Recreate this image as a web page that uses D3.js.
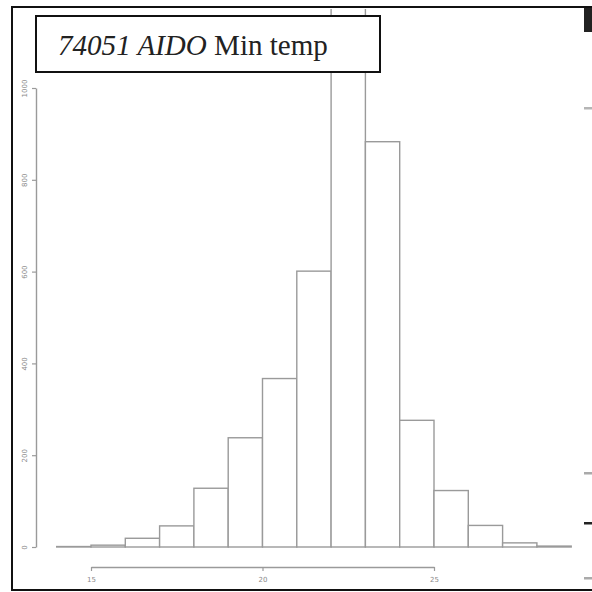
<!DOCTYPE html>
<html>
<head>
<meta charset="utf-8">
<script src="https://cdn.jsdelivr.net/npm/d3@7"></script>
<style>
  html, body { margin: 0; padding: 0; background: #fff; }
  svg { display: block; }
</style>
</head>
<body>
<svg id="chart" width="592" height="592"></svg>
<script>
// Daily minimum temperature histogram, station 74051 AIDO (1 °C bins)
const binStarts = [14, 15, 16, 17, 18, 19, 20, 21, 22, 23, 24, 25, 26, 27, 28];
const counts    = [1, 4, 19, 46, 128, 238, 367, 601, 1180, 883, 276, 123, 47, 9, 2];
const xTicks    = [15, 20, 25];
const yTicks    = [0, 200, 400, 600, 800, 1000];
const titleStation = "74051 AIDO";
const titleVariable = " Min temp";

const svg = d3.select("#chart");

const x = d3.scaleLinear().domain([15, 25]).range([91, 434]);
const y = d3.scaleLinear().domain([0, 1000]).range([547, 88]);

const grey = "#9a9a9a";
const textGrey = "#8a8a8a";

// clip area inside the outer frame
svg.append("clipPath").attr("id", "frameClip")
  .append("rect").attr("x", 13).attr("y", 9).attr("width", 570).attr("height", 580);

// histogram bars
svg.append("g").attr("clip-path", "url(#frameClip)")
  .selectAll("rect").data(binStarts).join("rect")
  .attr("x", (d) => x(d))
  .attr("width", (d) => x(d + 1) - x(d))
  .attr("y", (d, i) => y(counts[i]))
  .attr("height", (d, i) => y(0) - y(counts[i]))
  .attr("fill", "#fff")
  .attr("stroke", grey)
  .attr("stroke-width", 1.4);

// x axis
const xAxis = svg.append("g")
  .attr("transform", `translate(0,${567})`)
  .call(d3.axisBottom(x).tickValues(xTicks).tickSize(4).tickSizeOuter(0).tickPadding(6));
xAxis.select(".domain").attr("stroke", grey).attr("stroke-width", 1.4);
xAxis.selectAll(".tick line").attr("stroke", grey).attr("stroke-width", 1.2);
xAxis.selectAll(".tick text")
  .attr("fill", textGrey).attr("font-size", 7).attr("font-family", "DejaVu Sans, sans-serif");

// y axis with rotated labels
const yAxis = svg.append("g")
  .attr("transform", `translate(${36},0)`)
  .call(d3.axisLeft(y).tickValues(yTicks).tickSize(4).tickSizeOuter(0).tickFormat(d3.format("d")));
yAxis.select(".domain").attr("stroke", grey).attr("stroke-width", 1.4);
yAxis.selectAll(".tick line").attr("stroke", grey).attr("stroke-width", 1.2);
yAxis.selectAll(".tick text")
  .attr("fill", textGrey).attr("font-size", 7).attr("font-family", "DejaVu Sans, sans-serif")
  .attr("x", null).attr("dy", null)
  .attr("text-anchor", "middle")
  .attr("transform", "translate(-11,0) rotate(-90)")
  .attr("dominant-baseline", "middle");

// outer frame
svg.append("rect")
  .attr("x", 12).attr("y", 7).attr("width", 590).attr("height", 583)
  .attr("fill", "none").attr("stroke", "#111").attr("stroke-width", 2);

// neighbouring panel edge on the right
svg.append("rect").attr("x", 584).attr("y", 8).attr("width", 8).attr("height", 24).attr("fill", "#222");
[[108, "#b5b5b5"], [473, "#aaaaaa"], [523, "#222"], [578, "#aaaaaa"]].forEach(([yy, c]) => {
  svg.append("rect").attr("x", 584).attr("y", yy - 1).attr("width", 8).attr("height", 2.5).attr("fill", c);
});

// title box
svg.append("rect")
  .attr("x", 36).attr("y", 16).attr("width", 344).attr("height", 56)
  .attr("fill", "#fff").attr("stroke", "#111").attr("stroke-width", 2);

const title = svg.append("text")
  .attr("x", 58).attr("y", 55)
  .attr("font-family", "Liberation Serif, Times New Roman, serif")
  .attr("font-size", 28)
  .attr("fill", "#222");
title.append("tspan").attr("font-style", "italic").text(titleStation);
title.append("tspan").text(titleVariable);

// fit title to its measured width
const w = title.node().getComputedTextLength();
const target = 270;
title.attr("font-size", 28 * target / w);
</script>
</body>
</html>
